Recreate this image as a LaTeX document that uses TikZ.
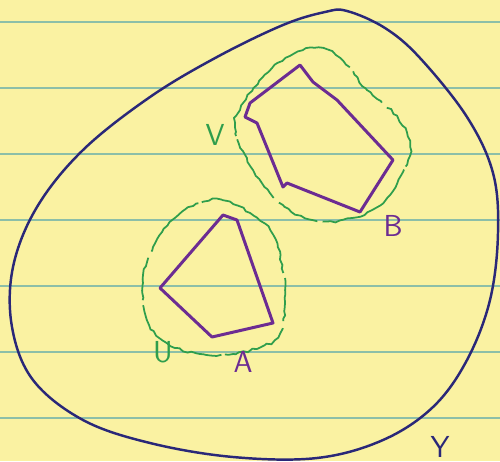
\documentclass[tikz,border=0pt]{standalone}
\usepackage{tikz}
\usetikzlibrary{decorations.pathmorphing}
\definecolor{PaperFill}{HTML}{FAF2A2}
\definecolor{PaperRule}{HTML}{8CBFA8}
\definecolor{InkNavy}{HTML}{2A2878}
\definecolor{InkPurple}{HTML}{6C2C92}
\definecolor{InkGreen}{HTML}{2F9E4C}
\tikzset{
  every picture/.append style={font=\LARGE\sffamily},
  rule/.style={draw=PaperRule, line width=0.9pt},
  space/.style={draw=InkNavy, line width=1.4pt},
  region/.style={draw=InkPurple, line width=1.7pt, line join=round},
  nbhd/.style={draw=InkGreen, line width=1pt,
               decorate, decoration={random steps, segment length=2.5pt, amplitude=0.6pt},
               dash pattern=on 60pt off 3pt on 25pt off 4pt on 40pt off 2pt},
  lblP/.style={text=InkPurple, inner sep=1pt},
  lblG/.style={text=InkGreen, inner sep=1pt},
  lblN/.style={text=InkNavy, inner sep=1pt},
}

\begin{document}
\begin{tikzpicture}[x=0.02cm,y=-0.02cm]
\pgfmathsetseed{7}

% ---------------- paper -----------------------------------------------------
\useasboundingbox (0,0) rectangle (500,461);
\fill[PaperFill] (0,0) rectangle (500,461);
\foreach \y in {22,88,154,220,286,352,418}{ \draw[rule] (0,\y) -- (500,\y); }

% ---------------- the space -------------------------------------------------
\draw[space] plot[smooth cycle, tension=0.6] coordinates {
  (347,11) (385,28) (420,58) (467,117) (493,173) (498,233) (490,300) (467,360)
  (433,407) (383,440) (317,458) (233,457) (150,443) (83,420) (33,380)
  (12,327) (13,267) (37,207) (83,150) (150,97) (217,57) (283,25) (325,12)};
\node[lblN] (y) at (440,447) {Y};

% ---------------- set B and its neighbourhood V -----------------------------
\draw[region] (300,65) -- (313,82) -- (337,100) -- (393,160) -- (360,212)
  -- (287,183) -- (283,187) -- (257,123) -- (245,117) -- (250,103) -- cycle;
\draw[nbhd] plot[smooth cycle, tension=0.7] coordinates {
  (240,110) (262,78) (290,56) (315,48) (340,58) (367,90) (398,118) (410,147)
  (403,172) (383,203) (352,218) (317,221) (283,205) (253,170) (236,132)};
\node[lblP] (b) at (393,226) {B};
\node[lblG] (v) at (215,135) {V};

% ---------------- set A and its neighbourhood U -----------------------------
\draw[region] (223,215) -- (237,220) -- (273,323) -- (212,337) -- (160,288) -- cycle;
\draw[nbhd] plot[smooth cycle, tension=0.7] coordinates {
  (200,203) (222,200) (250,213) (273,235) (283,272) (285,302) (280,333)
  (265,345) (233,354) (200,354) (167,343) (147,320) (143,283) (153,247) (175,218)};
\node[lblP] (a) at (243,362) {A};
\node[lblG] (u) at (163,352) {U};

\end{tikzpicture}
\end{document}
